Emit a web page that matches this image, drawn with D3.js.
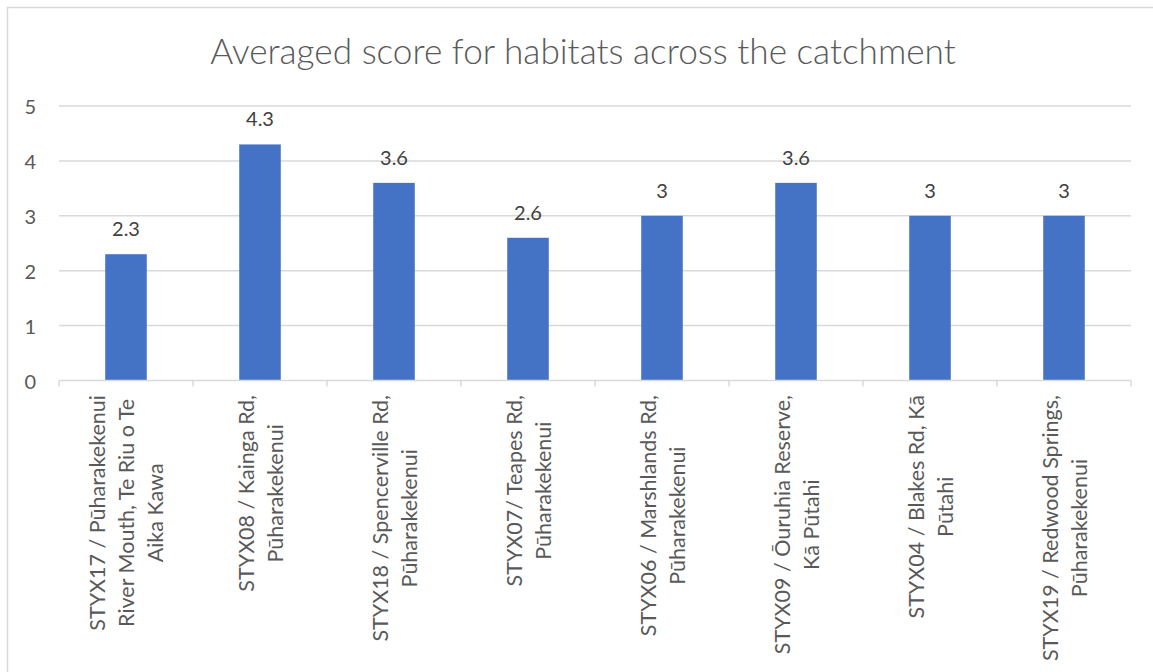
<!DOCTYPE html>
<html><head><meta charset="utf-8">
<script src="https://cdn.jsdelivr.net/npm/d3@7"></script>
<style>body{margin:0;background:#fff;}svg{display:block;}</style>
</head><body>
<script>
const categories = [
  ["STYX17 / Pūharakekenui", "River Mouth, Te Riu o Te", "Aika Kawa"],
  ["STYX08 / Kainga Rd,", "Pūharakekenui"],
  ["STYX18 / Spencerville Rd,", "Pūharakekenui"],
  ["STYX07/ Teapes Rd,", "Pūharakekenui"],
  ["STYX06  / Marshlands Rd,", "Pūharakekenui"],
  ["STYX09 / Ōuruhia Reserve,", "Kā Pūtahi"],
  ["STYX04  / Blakes Rd, Kā", "Pūtahi"],
  ["STYX19 / Redwood Springs,", "Pūharakekenui"]
];
const values = [2.3, 4.3, 3.6, 2.6, 3, 3.6, 3, 3];
const yTicks = [0, 1, 2, 3, 4, 5];
const title = "Averaged score for habitats across the catchment";

(function () {
const W = 1153, H = 672;
const svg = d3.select("body").append("svg").attr("width", W).attr("height", H);
const font = "Lato, 'Open Sans', sans-serif";

svg.append("rect").attr("x", 7.5).attr("y", 7.5).attr("width", W + 20).attr("height", H + 20)
  .attr("fill", "#fff").attr("stroke", "#d9d9d9").attr("stroke-width", 1.5);

const pL = 59, pR = 1131, pT = 106, pB = 380.5;
const x = d3.scaleBand().domain(d3.range(categories.length)).range([pL, pR]).paddingInner(0.69).paddingOuter(0.345);
const xb = d3.scaleBand().domain(d3.range(categories.length)).range([pL, pR]);
const y = d3.scaleLinear().domain([0, 5]).range([pB, pT]);

svg.append("g").selectAll("line").data(yTicks.filter(d => d > 0)).join("line")
  .attr("x1", pL).attr("x2", pR).attr("y1", d => y(d)).attr("y2", d => y(d))
  .attr("stroke", "#d9d9d9").attr("stroke-width", 1.5);

svg.append("g").selectAll("text").data(yTicks).join("text")
  .attr("x", 36).attr("y", d => y(d)).attr("text-anchor", "end").attr("dominant-baseline", "central")
  .attr("font-family", font).attr("font-size", 20).attr("fill", "#595959").text(d => d);

svg.append("g").selectAll("rect").data(values).join("rect")
  .attr("x", (d, i) => x(i)).attr("width", x.bandwidth())
  .attr("y", d => y(d)).attr("height", d => y(0) - y(d)).attr("fill", "#4472c4");

svg.append("g").selectAll("text").data(values).join("text")
  .attr("x", (d, i) => x(i) + x.bandwidth() / 2).attr("y", d => y(d) - 18)
  .attr("text-anchor", "middle").attr("font-family", font).attr("font-size", 20)
  .attr("fill", "#404040").text(d => d);

svg.append("line").attr("x1", pL).attr("x2", pR).attr("y1", pB).attr("y2", pB)
  .attr("stroke", "#d9d9d9").attr("stroke-width", 1.5);
svg.append("g").selectAll("line").data(d3.range(categories.length + 1)).join("line")
  .attr("x1", i => pL + i * xb.bandwidth()).attr("x2", i => pL + i * xb.bandwidth())
  .attr("y1", pB).attr("y2", pB + 6).attr("stroke", "#d9d9d9").attr("stroke-width", 1.5);

const lineGap = 29;
categories.forEach((lines, i) => {
  const g = svg.append("g").attr("transform", `translate(${xb(i) + xb.bandwidth() / 2},395) rotate(-90)`);
  const texts = g.selectAll("text").data(lines).join("text")
    .attr("font-family", font).attr("font-size", 21.5).attr("fill", "#595959")
    .attr("text-anchor", "middle").attr("dominant-baseline", "central")
    .attr("y", (d, j) => (j - (lines.length - 1) / 2) * lineGap)
    .text(d => d);
  let maxLen = 0;
  texts.each(function () { maxLen = Math.max(maxLen, this.getComputedTextLength()); });
  texts.attr("x", -maxLen / 2);
});

svg.append("text").attr("x", 583).attr("y", 64).attr("text-anchor", "middle")
  .attr("font-family", font).attr("font-weight", 300).attr("font-size", 35.2)
  .attr("fill", "#595959").text(title);
})();
</script>
</body></html>
